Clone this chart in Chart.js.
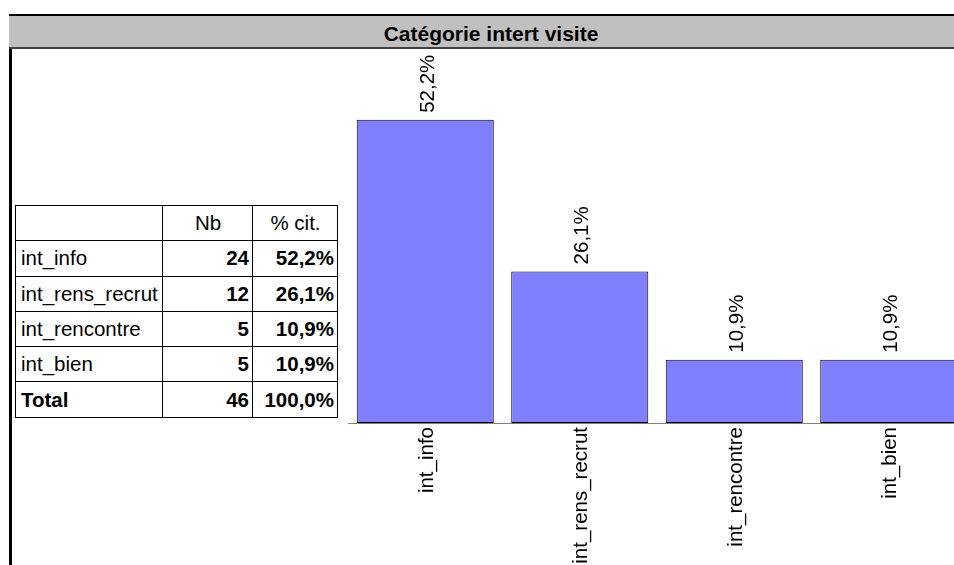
<!DOCTYPE html>
<html>
<head>
<meta charset="utf-8">
<script src="https://cdn.jsdelivr.net/npm/chart.js@4"></script>
<style>
  html, body { margin: 0; padding: 0; background: #fff; overflow: hidden; width: 954px; height: 565px; }
  body { position: relative; font-family: Arial, "Liberation Sans", sans-serif; color: #000; }
  .frame-left { position: absolute; left: 9px; top: 14px; width: 3px; height: 560px; background: #000; }
  .title-bar {
    position: absolute; left: 9px; top: 14px; width: 964px; height: 31px;
    background: #c0c0c0; border-top: 2px solid #000; border-bottom: 2px solid #404040;
    text-align: center; font-weight: bold; font-size: 21px; line-height: 31px;
  }
  .title-bar span { position: relative; top: 2px; }
  #freqTable {
    position: absolute; left: 15px; top: 205px; border-collapse: collapse; table-layout: fixed;
    font-size: 20.5px;
  }
  #freqTable td { border: 1px solid #000; height: 34.3px; padding: 0 4px 0 5px; white-space: nowrap; }
  #freqTable td.num { text-align: right; font-weight: bold; padding: 0 3px 0 0; }
  #freqTable td.head { text-align: center; }
  #freqTable tr.total td { font-weight: bold; }
  #chartBox { position: absolute; left: 340px; top: 49px; }
</style>
</head>
<body>
<div class="frame-left"></div>
<div class="title-bar"><span>Catégorie intert visite</span></div>

<table id="freqTable">
  <colgroup><col style="width:147px"><col style="width:90px"><col style="width:85px"></colgroup>
  <tbody></tbody>
</table>

<div id="chartBox"><canvas id="barChart" width="626" height="524"></canvas></div>

<script>
// --- Data ---
const categories = ['int_info', 'int_rens_recrut', 'int_rencontre', 'int_bien'];
const counts = [24, 12, 5, 5];
const percents = [52.2, 26.1, 10.9, 10.9];
const totalCount = 46;
const totalPercent = 100.0;

function fmtPct(v) {
    return v.toFixed(1).replace('.', ',') + '%';
}

// --- Table ---
const tbody = document.querySelector('#freqTable tbody');
let rows = '<tr><td></td><td class="head">Nb</td><td class="head">% cit.</td></tr>';
categories.forEach((cat, i) => {
    rows += `<tr><td>${cat}</td><td class="num">${counts[i]}</td><td class="num">${fmtPct(percents[i])}</td></tr>`;
});
rows += `<tr class="total"><td>Total</td><td class="num">${totalCount}</td><td class="num">${fmtPct(totalPercent)}</td></tr>`;
tbody.innerHTML = rows;

// --- Value labels above bars (rotated) ---
const valueLabels = {
    id: 'valueLabels',
    afterDatasetsDraw(chart) {
        const ctx = chart.ctx;
        const meta = chart.getDatasetMeta(0);
        ctx.save();
        ctx.font = '20.5px Arial, "Liberation Sans", sans-serif';
        ctx.fillStyle = '#000';
        ctx.textAlign = 'left';
        ctx.textBaseline = 'middle';
        meta.data.forEach((bar, i) => {
            ctx.save();
            ctx.translate(bar.x + 3, bar.y - 7);
            ctx.rotate(-Math.PI / 2);
            ctx.fillText(fmtPct(percents[i]), 0, 0);
            ctx.restore();
        });
        ctx.restore();
    }
};

const ctx = document.getElementById('barChart').getContext('2d');
new Chart(ctx, {
    type: 'bar',
    data: {
        labels: categories,
        datasets: [{
            data: percents,
            backgroundColor: '#8080ff',
            borderColor: '#000',
            borderWidth: 1,
            borderSkipped: false,
            barPercentage: 0.887,
            categoryPercentage: 1.0
        }]
    },
    options: {
        responsive: false,
        animation: false,
        devicePixelRatio: 1,
        layout: { padding: { left: 8, right: 0, top: 0, bottom: 0 } },
        plugins: {
            legend: { display: false },
            tooltip: { enabled: false }
        },
        scales: {
            y: {
                display: false,
                min: 0,
                max: 64.4
            },
            x: {
                grid: { display: false, drawTicks: false },
                border: { display: true, color: '#808080', width: 1 },
                ticks: {
                    color: '#000',
                    font: { family: 'Arial, "Liberation Sans", sans-serif', size: 20.5 },
                    minRotation: 90,
                    maxRotation: 90,
                    autoSkip: false,
                    padding: 4,
                    labelOffset: 2
                },
                afterFit: (scale) => { scale.height = 150; }
            }
        }
    },
    plugins: [valueLabels]
});
</script>
</body>
</html>
